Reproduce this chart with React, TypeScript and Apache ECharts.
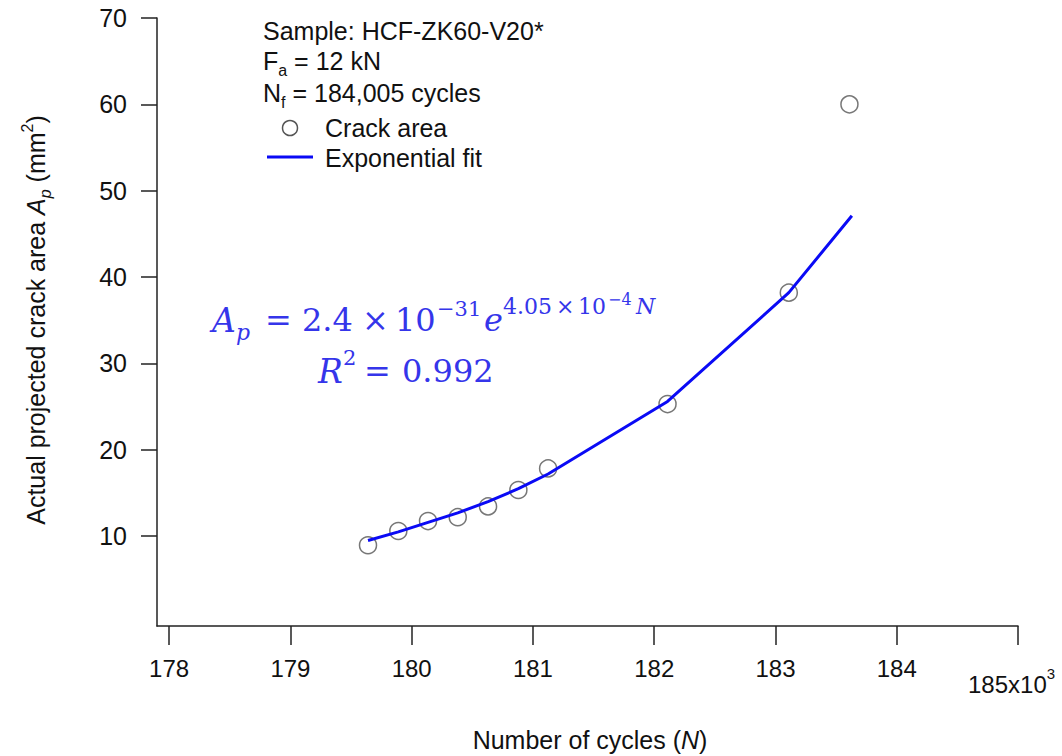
import React, { useEffect, useRef } from "react";
import * as echarts from "echarts";

// Data (x in thousands of cycles, y in mm^2)
const cycles = [179.64, 179.89, 180.135, 180.38, 180.63, 180.88, 181.125, 182.11, 183.11, 183.61];
const crackArea = [8.95, 10.6, 11.75, 12.2, 13.45, 15.35, 17.85, 25.3, 38.2, 60.0];
const fitCycles = [179.64, 179.89, 180.135, 180.38, 180.63, 180.88, 181.125, 182.11, 183.11, 183.63];
const fitArea = [9.5, 10.5, 11.6, 12.7, 14.0, 15.5, 17.2, 25.6, 38.2, 47.1];
const xTicks = [178, 179, 180, 181, 182, 183, 184, 185];
const xTickLabels = [178, 179, 180, 181, 182, 183, 184];
const yTicks = [10, 20, 30, 40, 50, 60, 70];

const SANS = "'Liberation Sans', Arial, Helvetica, sans-serif";
const SERIF = "'DejaVu Serif', 'Liberation Serif', serif";
const BLUE = "#3535ea";
const INK = "#111";

export default function App() {
  const ref = useRef<HTMLDivElement>(null);
  useEffect(() => {
    if (!ref.current) return;
    const chart = echarts.init(ref.current, undefined, { renderer: "svg" });
    // equation piece, positioned by baseline
    const eq = (x: number, baseline: number, text: string, size: number, italic = false) => ({
      type: "text",
      x,
      y: baseline - 0.33 * size,
      style: {
        text,
        fill: BLUE,
        font: `${italic ? "italic " : ""}${size}px ${SERIF}`,
        verticalAlign: "middle",
      },
    });
    const legendRich = {
      n: { font: `25px ${SANS}`, fill: INK, lineHeight: 30, verticalAlign: "top" },
      s: { font: `16px ${SANS}`, fill: INK, lineHeight: 30, verticalAlign: "bottom" },
    };
    chart.setOption({
      animation: false,
      grid: { left: 157, right: 44, top: 18, bottom: 130 },
      xAxis: {
        type: "value",
        min: 177.9,
        max: 185,
        axisLine: { show: true, onZero: false, lineStyle: { color: "#222", width: 1.5 } },
        axisTick: { show: true, customValues: xTicks, length: 19, lineStyle: { color: "#222", width: 1.5 } },
        axisLabel: {
          customValues: xTickLabels,
          margin: 30,
          fontSize: 24,
          fontFamily: SANS,
          color: INK,
          formatter: (v: number) => String(v),
        },
        splitLine: { show: false },
      },
      yAxis: {
        type: "value",
        min: -0.4,
        max: 70,
        axisLine: { show: true, onZero: false, lineStyle: { color: "#222", width: 1.5 } },
        axisTick: { show: true, customValues: yTicks, length: 16, lineStyle: { color: "#222", width: 1.5 } },
        axisLabel: {
          customValues: yTicks,
          margin: 30,
          fontSize: 25,
          fontFamily: SANS,
          color: INK,
          formatter: (v: number) => String(v),
        },
        splitLine: { show: false },
      },
      series: [
        {
          type: "scatter",
          data: cycles.map((c, i) => [c, crackArea[i]]),
          symbol: "circle",
          symbolSize: 17,
          itemStyle: { color: "rgba(255,255,255,0)", borderColor: "#555", borderWidth: 1.5 },
          z: 2,
        },
        {
          type: "line",
          data: fitCycles.map((c, i) => [c, fitArea[i]]),
          showSymbol: false,
          symbol: "none",
          lineStyle: { color: "#0a0af5", width: 3 },
          z: 3,
        },
      ],
      graphic: [
        // Legend / annotation block
        {
          type: "text",
          x: 263,
          y: 31,
          style: { text: "Sample: HCF-ZK60-V20*", font: `25px ${SANS}`, fill: INK, verticalAlign: "middle" },
        },
        {
          type: "text",
          x: 263,
          y: 63,
          style: { text: "{n|F}{s|a}{n| = 12 kN}", verticalAlign: "middle", rich: legendRich },
        },
        {
          type: "text",
          x: 263,
          y: 95,
          style: { text: "{n|N}{s|f}{n| = 184,005 cycles}", verticalAlign: "middle", rich: legendRich },
        },
        {
          type: "circle",
          shape: { cx: 290, cy: 128, r: 7.5 },
          style: { fill: "none", stroke: "#555", lineWidth: 1.5 },
        },
        {
          type: "text",
          x: 325,
          y: 128,
          style: { text: "Crack area", font: `25px ${SANS}`, fill: INK, verticalAlign: "middle" },
        },
        {
          type: "line",
          shape: { x1: 267, y1: 157, x2: 313, y2: 157 },
          style: { stroke: "#0a0af5", lineWidth: 3 },
        },
        {
          type: "text",
          x: 325,
          y: 158,
          style: { text: "Exponential fit", font: `25px ${SANS}`, fill: INK, verticalAlign: "middle" },
        },
        // Equation
        eq(212, 331, "A", 33, true),
        eq(236, 340, "p", 22, true),
        eq(265, 331, "=", 32),
        eq(302, 331, "2.4", 32),
        eq(362, 331, "×", 32),
        eq(395, 331, "10", 32),
        eq(437, 316, "−31", 21),
        eq(484, 331, "e", 32, true),
        eq(503, 314, "4.05", 22),
        eq(556, 314, "×", 22),
        eq(578, 314, "10", 22),
        eq(608, 305, "−4", 16),
        eq(636, 314, "N", 22, true),
        eq(318, 382, "R", 33, true),
        eq(343, 365, "2", 21),
        eq(364, 382, "=", 32),
        eq(402, 382, "0.992", 32),
        // x axis exponent label
        {
          type: "text",
          x: 968,
          y: 681,
          style: {
            text: "{n|185x10}{s|3}",
            verticalAlign: "middle",
            rich: {
              n: { font: `24px ${SANS}`, fill: INK, lineHeight: 30, verticalAlign: "bottom" },
              s: { font: `15px ${SANS}`, fill: INK, lineHeight: 30, verticalAlign: "top" },
            },
          },
        },
        // Axis titles
        {
          type: "text",
          x: 590,
          y: 740,
          style: {
            text: "{n|Number of cycles (}{i|N}{n|)}",
            align: "center",
            verticalAlign: "middle",
            rich: {
              n: { font: `25px ${SANS}`, fill: INK },
              i: { font: `italic 25px ${SANS}`, fill: INK },
            },
          },
        },
        {
          type: "text",
          x: 36,
          y: 320,
          rotation: Math.PI / 2,
          style: {
            text: "{n|Actual projected crack area }{i|A}{s|p}{n| (mm}{u|2}{n|)}",
            align: "center",
            verticalAlign: "middle",
            rich: {
              n: { font: `25px ${SANS}`, fill: INK, lineHeight: 34, verticalAlign: "middle" },
              i: { font: `italic 25px ${SANS}`, fill: INK, lineHeight: 34, verticalAlign: "middle" },
              s: { font: `italic 16px ${SANS}`, fill: INK, lineHeight: 34, verticalAlign: "bottom" },
              u: { font: `16px ${SANS}`, fill: INK, lineHeight: 34, verticalAlign: "top" },
            },
          },
        },
      ],
    });
    return () => chart.dispose();
  }, []);
  return (
    <div
      ref={ref}
      style={{ position: "absolute", left: 0, top: 0, width: 1062, height: 756, background: "#fff" }}
    />
  );
}
